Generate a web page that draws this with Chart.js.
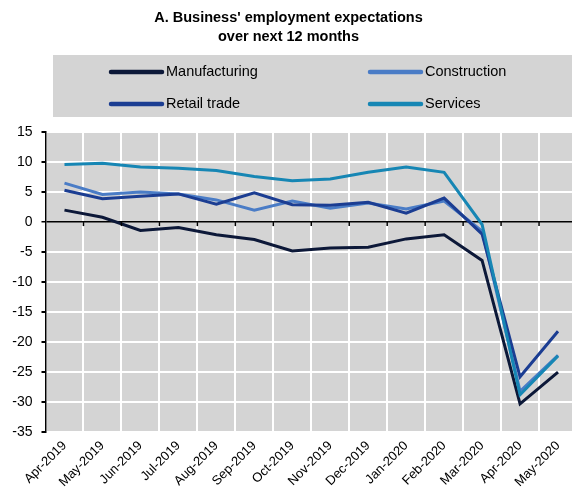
<!DOCTYPE html>
<html>
<head>
<meta charset="utf-8">
<script src="https://cdn.jsdelivr.net/npm/chart.js@4"></script>
<style>
  html, body { margin: 0; padding: 0; background: #fff; overflow: hidden; }
  canvas { display: block; }
</style>
</head>
<body>
<canvas id="empChart" width="577" height="496"></canvas>
<script>
const months = ['Apr-2019', 'May-2019', 'Jun-2019', 'Jul-2019', 'Aug-2019', 'Sep-2019', 'Oct-2019',
    'Nov-2019', 'Dec-2019', 'Jan-2020', 'Feb-2020', 'Mar-2020', 'Apr-2020', 'May-2020']
const manufacturing = [2.0, 0.8, -1.4, -0.9, -2.1, -2.9, -4.8, -4.3, -4.2, -2.8, -2.1, -6.4, -30.3, -25.0]
const construction = [6.5, 4.6, 5.0, 4.7, 3.7, 2.0, 3.5, 2.3, 3.2, 2.2, 3.5, -1.5, -28.2, -22.2]
const retailTrade = [5.3, 3.9, 4.3, 4.7, 3.0, 4.9, 2.9, 2.8, 3.3, 1.5, 4.0, -2.0, -25.8, -18.2]
const services = [9.6, 9.8, 9.2, 9.0, 8.6, 7.6, 6.9, 7.2, 8.3, 9.2, 8.3, -0.4, -28.8, -22.3]
const yTicks = [15, 10, 5, 0, -5, -10, -15, -20, -25, -30, -35]

const FONT = "'Liberation Sans Narrow', 'Arial Narrow', 'Liberation Sans', Arial, sans-serif"

const series = [
    { label: 'Manufacturing', data: manufacturing, color: '#0c1838' },
    { label: 'Construction', data: construction, color: '#4a7cc6' },
    { label: 'Retail trade', data: retailTrade, color: '#1b3d92' },
    { label: 'Services', data: services, color: '#1686b4' },
]

// grey plot background + tick marks on the zero line
const plotBackground = {
    id: 'plotBackground',
    beforeDraw(chart) {
        const { ctx, chartArea } = chart
        ctx.save()
        ctx.fillStyle = '#d4d4d4'
        ctx.fillRect(chartArea.left, chartArea.top, chartArea.right - chartArea.left, chartArea.bottom - chartArea.top)
        ctx.restore()
    },
    afterDatasetsDraw(chart) {
        const { ctx, scales } = chart
        const x = scales.x, y = scales.y
        const y0 = y.getPixelForValue(0)
        ctx.save()
        ctx.strokeStyle = '#000'
        ctx.lineWidth = 1.5
        for (let i = 0; i < months.length - 1; i++) {
            const bx = (x.getPixelForValue(i) + x.getPixelForValue(i + 1)) / 2
            ctx.beginPath()
            ctx.moveTo(bx, y0)
            ctx.lineTo(bx, y0 + 4)
            ctx.stroke()
        }
        ctx.restore()
    }
}

// two-column legend in a grey box
const boxLegend = {
    id: 'boxLegend',
    afterDraw(chart) {
        const { ctx } = chart
        ctx.save()
        ctx.fillStyle = '#d4d4d4'
        ctx.fillRect(53, 55, 524, 62)
        const cols = [111, 370]
        const rows = [72, 104]
        series.forEach((s, idx) => {
            const cx = cols[idx % 2]
            const cy = rows[Math.floor(idx / 2)]
            ctx.strokeStyle = s.color
            ctx.lineWidth = 4.5
            ctx.lineCap = 'round'
            ctx.beginPath()
            ctx.moveTo(cx, cy)
            ctx.lineTo(cx + 51, cy)
            ctx.stroke()
            ctx.fillStyle = '#000'
            ctx.font = '14.5px ' + FONT
            ctx.textBaseline = 'middle'
            ctx.fillText(s.label, cx + 55, cy)
        })
        ctx.restore()
    }
}

const context = document.getElementById('empChart').getContext('2d')

const config = {
    type: 'line',
    data: {
        labels: months,
        datasets: series.map((s, idx) => ({
            label: s.label,
            data: s.data,
            borderColor: s.color,
            backgroundColor: s.color,
            borderWidth: 3,
            pointRadius: 0,
            tension: 0,
            order: series.length - idx,
        }))
    },
    options: {
        responsive: false,
        animation: false,
        layout: { padding: { top: 0, right: 0, left: 0, bottom: 0 } },
        plugins: {
            legend: { display: false },
            tooltip: { enabled: false },
            title: {
                display: true,
                text: ["A. Business' employment expectations", 'over next 12 months'],
                color: '#000',
                font: { family: FONT, size: 14.5, weight: 'bold', lineHeight: 1.35 },
                padding: { top: 8, bottom: 85 },
            }
        },
        scales: {
            x: {
                offset: true,
                grid: { offset: true, color: '#fff', lineWidth: 2, drawTicks: false },
                border: { display: false },
                ticks: {
                    color: '#000',
                    font: { family: FONT, size: 13 },
                    minRotation: 45,
                    maxRotation: 45,
                    autoSkip: false,
                    padding: 6,
                },
                afterFit(scale) { scale.height = 64 }
            },
            y: {
                min: -35,
                max: 15,
                afterBuildTicks(scale) { scale.ticks = yTicks.map(v => ({ value: v })) },
                grid: {
                    color: (c) => c.tick && c.tick.value === 0 ? '#000' : '#fff',
                    lineWidth: (c) => c.tick && c.tick.value === 0 ? 1.5 : 2,
                    tickColor: '#000',
                    tickLength: 4,
                },
                border: { color: '#000', width: 1.5 },
                ticks: {
                    color: '#000',
                    font: { family: FONT, size: 14 },
                    padding: 9,
                },
                afterFit(scale) { scale.width = 45.5 }
            }
        }
    },
    plugins: [plotBackground, boxLegend]
}

const chart = new Chart(context, config)
</script>
</body>
</html>
